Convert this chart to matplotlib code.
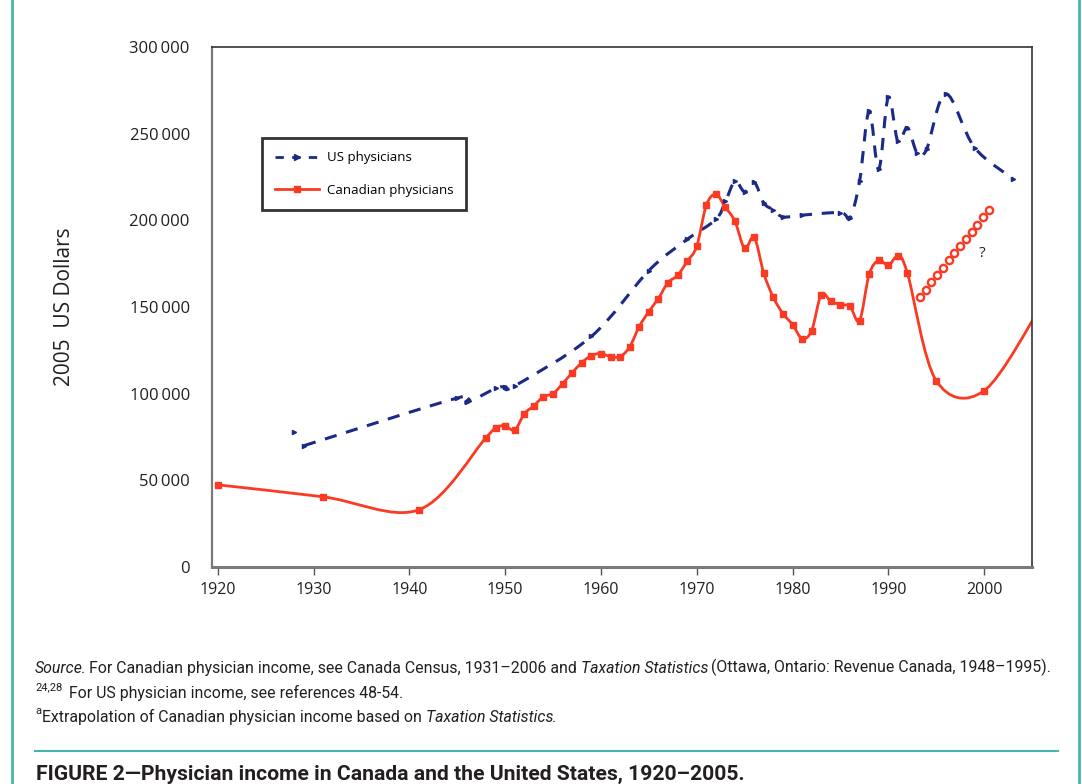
import numpy as np
import matplotlib
matplotlib.use("Agg")
import matplotlib.pyplot as plt
from matplotlib.path import Path
from matplotlib.patches import PathPatch
from matplotlib.lines import Line2D
from matplotlib.ticker import FuncFormatter

# US physician income (2005 US$)
us_years = [1928, 1929, 1945, 1946, 1949, 1950, 1951, 1959, 1965, 1969, 1972, 1973,
            1974, 1975, 1976, 1977, 1978, 1979, 1981, 1985, 1986, 1987, 1988, 1989,
            1990, 1991, 1992, 1993, 1994, 1996, 1999, 2003]
us_income = [78000, 70000, 97500, 95000, 103000, 104000, 104500, 133000, 171000, 189000, 200500, 211000,
             222500, 216500, 222000, 210000, 206000, 202000, 203000, 204500, 201500, 222500, 263000, 229500,
             271000, 245500, 253500, 239000, 241000, 273000, 242000, 224000]

# Canadian physician income (2005 US$)
ca_years = [1920, 1931, 1941, 1948, 1949, 1950, 1951, 1952, 1953, 1954, 1955, 1956,
            1957, 1958, 1959, 1960, 1961, 1962, 1963, 1964, 1965, 1966, 1967, 1968,
            1969, 1970, 1971, 1972, 1973, 1974, 1975, 1976, 1977, 1978, 1979, 1980,
            1981, 1982, 1983, 1984, 1985, 1986, 1987, 1988, 1989, 1990, 1991, 1992,
            1995, 2000, 2006]
ca_income = [47400, 40500, 33000, 74600, 80300, 81500, 79000, 88400, 93000, 98300, 100000, 105800,
             112100, 117900, 122000, 123100, 121400, 121400, 127000, 138700, 147400, 154900, 164100, 168200,
             176300, 185000, 208700, 215000, 207500, 199400, 183800, 190200, 169400, 155500, 146200, 139900,
             131800, 136400, 157200, 153200, 151400, 150300, 142200, 168800, 176900, 174000, 179200, 169400,
             107500, 101700, 151000]

# extrapolated Canadian income (open circles)
ex_years = [1993.3, 1993.9, 1994.5, 1995.1, 1995.7, 1996.3, 1996.9, 1997.5, 1998.1, 1998.7,
            1999.3, 1999.9, 2000.5]
ex_income = [156000, 160000, 164500, 168500, 172500, 177000, 181000, 185000, 189500, 193500,
             197500, 202000, 206000]

x_ticks = [1920, 1930, 1940, 1950, 1960, 1970, 1980, 1990, 2000]
y_ticks = [0, 50000, 100000, 150000, 200000, 250000, 300000]

NAVY = "#1b2a86"
RED = "#fa3a22"
TEAL = "#47b5ae"
TXT = "#231f20"

UI = ["Open Sans", "DejaVu Sans"]
NARROW = ["Roboto", "DejaVu Sans"]


# smooth curve through the points (like a spreadsheet "smoothed line")
def smooth_path(xs, ys):
    pts = np.column_stack([xs, ys]).astype(float)
    n = len(pts)
    verts = [pts[0]]
    codes = [Path.MOVETO]
    for i in range(n - 1):
        p0 = pts[i - 1] if i > 0 else pts[i]
        p1 = pts[i]
        p2 = pts[i + 1]
        p3 = pts[i + 2] if i + 2 < n else pts[i + 1]
        verts += [p1 + (p2 - p0) / 6, p2 - (p3 - p1) / 6, p2]
        codes += [Path.CURVE4] * 3
    return Path(verts, codes)


def px(x, y):
    return x / 1082, 1 - y / 784


fig = plt.figure(figsize=(10.82, 7.84), dpi=100)
ax = fig.add_axes([212 / 1082, 1 - 567 / 784, 820 / 1082, 520 / 784])

# US line (the 1928 value stands alone)
ax.add_patch(PathPatch(smooth_path(us_years[1:], us_income[1:]), fill=False, edgecolor=NAVY,
                       lw=2.2, linestyle=(0, (4, 3.2)), capstyle="butt"))
ax.plot(us_years, us_income, ls="none", marker=">", ms=3, color=NAVY)

# Canadian line
ax.add_patch(PathPatch(smooth_path(ca_years, ca_income), fill=False, edgecolor=RED, lw=2.0))
ax.plot(ca_years, ca_income, ls="none", marker="s", ms=5, color=RED)

# extrapolation
ax.plot(ex_years, ex_income, ls="none", marker="o", ms=5.2, mew=1.7, mfc="white", mec=RED)
ax.text(1999.8, 181000, "?", fontsize=11, family=UI, color=TXT, ha="center", va="center")

ax.set_xlim(1919.4, 2005)
ax.set_ylim(0, 300000)
ax.set_xticks(x_ticks)
ax.set_yticks(y_ticks)
ax.yaxis.set_major_formatter(FuncFormatter(lambda v, p: f"{v:,.0f}".replace(",", "\u2009")))
ax.tick_params(axis="y", length=0, pad=16, labelsize=12, labelcolor=TXT)
ax.tick_params(axis="x", length=6, width=1, color="#555", pad=5, labelsize=11.5, labelcolor=TXT)
for lab in ax.get_xticklabels() + ax.get_yticklabels():
    lab.set_family(UI)

ax.spines["left"].set_color("#7a7a7a")
ax.spines["left"].set_linewidth(1.6)
ax.spines["bottom"].set_color("#7a7a7a")
ax.spines["bottom"].set_linewidth(2.2)
for s in ["top", "right"]:
    ax.spines[s].set_color("#333")
    ax.spines[s].set_linewidth(1.2)

fig.text(*px(65, 307), "2005  US Dollars", rotation=90, fontsize=15,
         family=UI, color=TXT, ha="center", va="center")

handles = [Line2D([], [], color=NAVY, lw=2, ls=(0, (3, 3)), marker=">", ms=4),
           Line2D([], [], color=RED, lw=2, marker="s", ms=5)]
leg = ax.legend(handles, ["US physicians", "Canadian physicians"], loc="upper left",
                bbox_to_anchor=(50 / 820, (567 - 138) / 520), borderaxespad=0,
                fancybox=False, frameon=True, prop={"family": UI, "size": 9.5},
                handlelength=3.3, handletextpad=0.6, borderpad=1.0, labelspacing=1.5)
leg.get_frame().set_edgecolor("black")
leg.get_frame().set_linewidth(2)

# footer notes
fs = 11.4
t = fig.text(*px(35, 673), "Source", fontsize=fs, family=NARROW, style="italic",
             color=TXT, va="baseline")
a1 = ax.annotate(". For Canadian physician income, see Canada Census, 1931\u20132006 and ",
                 xy=(1, 0), xycoords=t, xytext=(-1.5, 0), textcoords="offset points",
                 va="bottom", fontsize=fs, family=NARROW, color=TXT, annotation_clip=False)
a2 = ax.annotate("Taxation Statistics", xy=(1, 0), xycoords=a1, va="bottom", fontsize=fs,
                 family=NARROW, style="italic", color=TXT, annotation_clip=False)
ax.annotate(" (Ottawa, Ontario: Revenue Canada, 1948\u20131995).", xy=(1, 0), xycoords=a2,
            xytext=(-1, 0), textcoords="offset points",
            va="bottom", fontsize=fs, family=NARROW, color=TXT, annotation_clip=False)

fig.text(*px(35, 690), "24,28", fontsize=8, family=NARROW, color=TXT, va="baseline")
fig.text(*px(69, 698), "For US physician income, see references 48-54.", fontsize=fs,
         family=NARROW, color=TXT, va="baseline")

fig.text(*px(35, 714), "a", fontsize=8, family=NARROW, color=TXT, va="baseline")
b1 = fig.text(*px(42, 722), "Extrapolation of Canadian physician income based on ",
              fontsize=fs, family=NARROW, color=TXT, va="baseline")
b2 = ax.annotate("Taxation Statistics", xy=(1, 0), xycoords=b1, va="bottom", fontsize=fs,
                 family=NARROW, style="italic", color=TXT, annotation_clip=False)
ax.annotate(".", xy=(1, 0), xycoords=b2, xytext=(-1, 0), textcoords="offset points",
            va="bottom", fontsize=fs, family=NARROW, color=TXT, annotation_clip=False)

# frame lines
fig.add_artist(Line2D([12 / 1082, 12 / 1082], [0, 1], color=TEAL, lw=2))
fig.add_artist(Line2D([1079 / 1082, 1079 / 1082], [0, 1], color=TEAL, lw=2))
fig.add_artist(Line2D([35 / 1082, 1058 / 1082], [1 - 751 / 784] * 2, color=TEAL, lw=1.5))

fig.text(*px(36, 780), "FIGURE 2\u2014Physician income in Canada and the United States, 1920\u20132005.",
         fontsize=15.2, family=NARROW, weight="bold", color=TXT, va="baseline")

fig.savefig("out.png", dpi=100)
